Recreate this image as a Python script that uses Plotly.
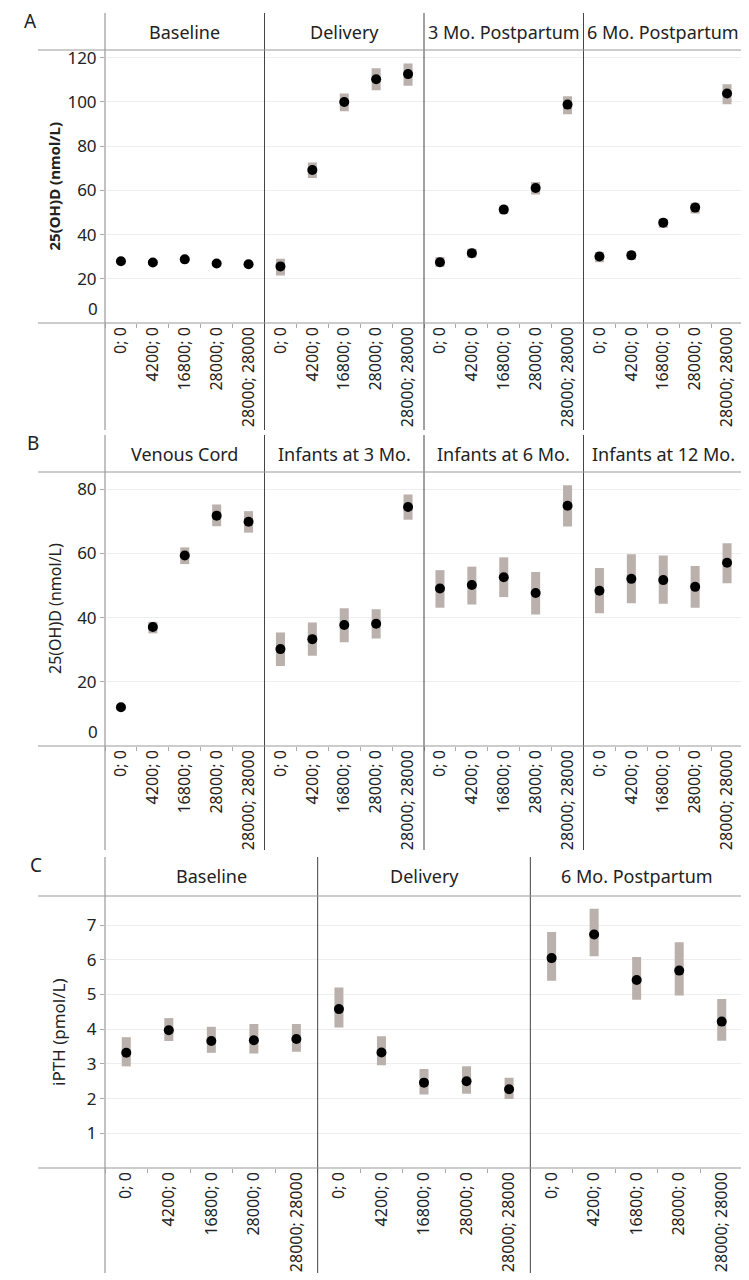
import plotly.graph_objects as go

# dose groups (maternal; infant)
groups = ["0; 0", "4200; 0", "16800; 0", "28000; 0", "28000; 28000"]

# panel A: maternal 25(OH)D
a_titles = ["Baseline", "Delivery", "3 Mo. Postpartum", "6 Mo. Postpartum"]
a_mean = [
    [27.9, 27.4, 28.8, 26.9, 26.6],
    [25.6, 69.2, 100.0, 110.3, 112.6],
    [27.5, 31.6, 51.3, 61.1, 98.8],
    [30.1, 30.6, 45.4, 52.2, 103.8],
]
a_low = [
    [26.9, 26.4, 27.8, 25.9, 25.6],
    [21.5, 65.6, 95.8, 105.3, 107.3],
    [25.3, 29.5, 49.5, 58.1, 94.4],
    [27.5, 28.6, 43.1, 49.5, 99.0],
]
a_high = [
    [28.9, 28.4, 29.8, 27.9, 27.6],
    [29.1, 72.6, 103.8, 115.2, 117.4],
    [29.8, 33.6, 53.2, 63.8, 102.6],
    [32.1, 32.5, 47.2, 54.4, 108.0],
]

# panel B: cord / infant 25(OH)D
b_titles = ["Venous Cord", "Infants at 3 Mo.", "Infants at 6 Mo.", "Infants at 12 Mo."]
b_mean = [
    [12.1, 37.1, 59.4, 71.8, 69.9],
    [30.2, 33.3, 37.7, 38.1, 74.5],
    [49.1, 50.2, 52.6, 47.7, 74.9],
    [48.4, 52.1, 51.7, 49.6, 57.1],
]
b_low = [
    [11.2, 35.1, 56.7, 68.5, 66.5],
    [24.9, 28.1, 32.3, 33.5, 70.5],
    [43.1, 44.1, 46.4, 41.0, 68.4],
    [41.4, 44.5, 44.3, 43.1, 50.7],
]
b_high = [
    [13.0, 38.7, 61.9, 75.3, 73.2],
    [35.4, 38.5, 42.9, 42.6, 78.4],
    [54.8, 55.9, 58.8, 54.2, 81.3],
    [55.5, 59.8, 59.4, 56.1, 63.2],
]

# panel C: maternal iPTH
c_titles = ["Baseline", "Delivery", "6 Mo. Postpartum"]
c_mean = [
    [3.32, 3.97, 3.66, 3.68, 3.72],
    [4.58, 3.33, 2.46, 2.50, 2.27],
    [6.05, 6.73, 5.42, 5.69, 4.22],
]
c_low = [
    [2.93, 3.66, 3.32, 3.30, 3.35],
    [4.05, 2.96, 2.12, 2.14, 1.99],
    [5.40, 6.10, 4.85, 4.97, 3.67],
]
c_high = [
    [3.77, 4.32, 4.07, 4.15, 4.15],
    [5.20, 3.80, 2.85, 2.93, 2.60],
    [6.80, 7.47, 6.08, 6.51, 4.87],
]

# the page body keeps its default 8px margin, so the figure is drawn 8px in
OFF = 8
W, H = 749 - OFF, 1280 - OFF
FONT = "Noto Sans"
TXT = "#222222"


def px(x):
    return (x - OFF) / W


def py(y):
    return 1 - (y - OFF) / H


# row layout in page pixels: top, header line, x axis line, bottom of tick labels
rows = [
    dict(letter="A", titles=a_titles, mean=a_mean, low=a_low, high=a_high,
         top=13, head=50, axis=323, bottom=430, left=105, right=743,
         yrange=[0, 123.5], ytick=[20, 40, 60, 80, 100, 120], zero=True,
         ytitle="<b>25(OH)D (nmol/L)</b>", tsize=15, tx=53, lx=22),
    dict(letter="B", titles=b_titles, mean=b_mean, low=b_low, high=b_high,
         top=435, head=472, axis=746, bottom=850, left=105, right=743,
         yrange=[0, 85.4], ytick=[20, 40, 60, 80], zero=True,
         ytitle="25(OH)D (nmol/L)", tsize=16, tx=55, lx=25),
    dict(letter="C", titles=c_titles, mean=c_mean, low=c_low, high=c_high,
         top=857, head=896, axis=1168, bottom=1273, left=105, right=743,
         yrange=[0, 7.84], ytick=[1, 2, 3, 4, 5, 6, 7], zero=False,
         ytitle="iPTH (pmol/L)", tsize=17, tx=58, lx=28),
]

fig = go.Figure()
shapes = []
annotations = []
layout = {}
n = 0

for row in rows:
    ncol = len(row["titles"])
    step = (row["right"] - row["left"]) / ncol
    first_axis = None
    for j, title in enumerate(row["titles"]):
        n += 1
        x0 = row["left"] + j * step
        x1 = x0 + step
        xname = "xaxis" if n == 1 else f"xaxis{n}"
        yname = "yaxis" if n == 1 else f"yaxis{n}"
        xref = "x" if n == 1 else f"x{n}"
        yref = "y" if n == 1 else f"y{n}"
        if first_axis is None:
            first_axis = yref

        mean = row["mean"][j]
        err_up = [h - m for h, m in zip(row["high"][j], mean)]
        err_dn = [m - l for m, l in zip(mean, row["low"][j])]
        fig.add_trace(go.Scatter(
            x=groups, y=mean, xaxis=xref, yaxis=yref, mode="markers",
            marker=dict(color="black", size=10),
            error_y=dict(type="data", symmetric=False, array=err_up,
                         arrayminus=err_dn, color="#bab0ac", thickness=9, width=0),
            hoverinfo="x+y",
        ))

        layout[xname] = dict(
            domain=[px(x0), px(x1)], anchor=yref, type="category",
            categoryorder="array", categoryarray=groups, range=[-0.5, 4.5],
            tickangle=-90, tickfont=dict(family=FONT, size=16, color=TXT),
            ticks="outside", tickson="boundaries", ticklen=4, tickcolor="#aaaaaa",
            showgrid=False, showline=False, zeroline=False, fixedrange=True,
            automargin=False,
        )
        layout[yname] = dict(
            domain=[py(row["axis"]), py(row["head"])], anchor=xref,
            range=row["yrange"], tickvals=row["ytick"],
            showgrid=True, gridcolor="#eeeeee", gridwidth=1,
            zeroline=False, showline=False, fixedrange=True,
            showticklabels=(j == 0), ticks="outside" if j == 0 else "",
            ticklen=4, tickcolor="#aaaaaa", automargin=False,
            tickfont=dict(family=FONT, size=17, color=TXT),
        )

        annotations.append(dict(
            text=title, x=px((x0 + x1) / 2), y=py((row["top"] + row["head"]) / 2),
            xref="paper", yref="paper", xanchor="center", yanchor="middle",
            showarrow=False, font=dict(family=FONT, size=18, color=TXT),
        ))

        # divider between facets
        if j > 0:
            shapes.append(dict(type="line", xref="paper", yref="paper",
                               x0=px(x0), x1=px(x0), y0=py(row["top"]), y1=py(row["bottom"]),
                               line=dict(color="#444444", width=1)))

    # shifted bottom label, as in the source
    if row["zero"]:
        annotations.append(dict(
            text="0", xref="paper", yref=first_axis, x=px(row["left"] - 5), y=0,
            xanchor="right", yanchor="bottom", yshift=1, showarrow=False,
            font=dict(family=FONT, size=17, color=TXT),
        ))

    # frame lines
    for yy in (row["head"], row["axis"]):
        shapes.append(dict(type="line", xref="paper", yref="paper",
                           x0=px(38), x1=px(row["right"]), y0=py(yy), y1=py(yy),
                           line=dict(color="#999999", width=1)))
    shapes.append(dict(type="line", xref="paper", yref="paper",
                       x0=px(row["left"]), x1=px(row["left"]),
                       y0=py(row["top"]), y1=py(row["bottom"]),
                       line=dict(color="#999999", width=1.2)))
    shapes.append(dict(type="line", xref="paper", yref="paper",
                       x0=px(row["right"]), x1=px(row["right"]),
                       y0=py(row["top"]), y1=py(row["bottom"]),
                       line=dict(color="#bbbbbb", width=1)))

    annotations.append(dict(
        text=row["letter"], x=px(row["lx"]), y=py(row["top"] + 8),
        xref="paper", yref="paper", xanchor="left", yanchor="middle",
        showarrow=False, font=dict(family=FONT, size=19, color=TXT),
    ))
    annotations.append(dict(
        text=row["ytitle"], textangle=-90, x=px(row["tx"]),
        y=py((row["head"] + row["axis"]) / 2), xref="paper", yref="paper",
        xanchor="center", yanchor="middle",
        showarrow=False, font=dict(family=FONT, size=row["tsize"], color=TXT),
    ))

fig.update_layout(
    width=W, height=H, margin=dict(l=0, r=0, t=0, b=0, autoexpand=False),
    paper_bgcolor="white", plot_bgcolor="white", showlegend=False,
    shapes=shapes, annotations=annotations, **layout,
)

fig.write_html("out.html")
